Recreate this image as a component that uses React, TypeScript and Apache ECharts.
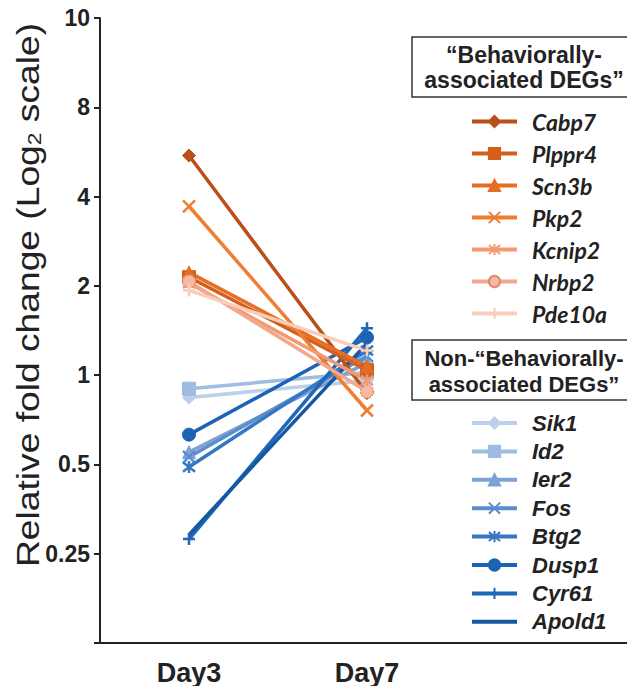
import React, { useEffect, useRef } from "react";
import * as echarts from "echarts";

const days = ["Day3", "Day7", ""];
const yTickLabels = ["", "0.25", "0.5", "1", "2", "4", "8", "10"];

const behavioralGenes = ["Cabp7", "Plppr4", "Scn3b", "Pkp2", "Kcnip2", "Nrbp2", "Pde10a"];
const behavioralDay3 = [5.5, 2.14, 2.22, 3.71, 2.04, 2.07, 1.93];
const behavioralDay7 = [0.87, 1.04, 1.07, 0.76, 0.96, 0.88, 1.21];
const behavioralColors = ["#b9501c", "#d35f1c", "#e56d24", "#ef7d32", "#f39a72", "#f2a88c", "#f8cdb9"];

const nonGenes = ["Sik1", "Id2", "Ier2", "Fos", "Btg2", "Dusp1", "Cyr61", "Apold1"];
const nonDay3 = [0.84, 0.9, 0.55, 0.53, 0.49, 0.63, 0.28, 0.29];
const nonDay7 = [0.96, 1.02, 1.1, 1.16, 1.21, 1.34, 1.44, 1.28];
const nonColors = ["#bcd0ea", "#9fbce2", "#7da2d4", "#5b8ccc", "#3577c2", "#1c63b4", "#1f68b8", "#1557a3"];

const X_PATH = "path://M0,0 L10,10 M10,0 L0,10";
const STAR_PATH = "path://M1,1 L9,9 M9,1 L1,9 M5,0 L5,10";
const PLUS_PATH = "path://M5,0 L5,10 M0,5 L10,5";
const LINE_ICON = "path://M0,0 L45,0 L45,4 L0,4 Z";

const behavioralSymbols = ["diamond", "rect", "triangle", X_PATH, STAR_PATH, "circle", PLUS_PATH];
const nonSymbols = ["diamond", "rect", "triangle", X_PATH, STAR_PATH, "circle", PLUS_PATH, "none"];

function makeSeries(name: string, d3: number, d7: number, color: string, symbol: string) {
  const stroked = symbol.startsWith("path://");
  const isNrbp2 = name === "Nrbp2";
  return {
    name,
    type: "line",
    data: [Math.log2(d3), Math.log2(d7)],
    symbol,
    symbolSize: stroked ? 12 : 13,
    lineStyle: { color, width: 3.5 },
    itemStyle: isNrbp2
      ? { color: "#f6b9a3", borderColor: "#df8a6c", borderWidth: 1.5, borderType: "dotted" }
      : { color, borderColor: color, borderWidth: stroked ? 2.5 : 1 },
    emphasis: { disabled: true },
    z: 2,
  };
}

export default function App() {
  const ref = useRef<HTMLDivElement>(null);
  useEffect(() => {
    const chart = echarts.init(ref.current!, undefined, { renderer: "svg" });
    const series: any[] = [];
    nonGenes.forEach((g, i) => series.push(makeSeries(g, nonDay3[i], nonDay7[i], nonColors[i], nonSymbols[i])));
    behavioralGenes.forEach((g, i) =>
      series.push(makeSeries(g, behavioralDay3[i], behavioralDay7[i], behavioralColors[i], behavioralSymbols[i]))
    );
    const nonLegendData = nonGenes.map((g, i) =>
      nonSymbols[i] === "none"
        ? { name: g, icon: LINE_ICON, itemStyle: { color: nonColors[i], borderWidth: 0 } }
        : { name: g }
    );
    const option: any = {
      animation: false,
      backgroundColor: "#ffffff",
      grid: { left: 100, right: 1, top: 18, bottom: 51 },
      xAxis: {
        type: "category",
        data: days,
        boundaryGap: true,
        axisLine: { onZero: false, lineStyle: { color: "#222", width: 2 } },
        axisTick: {
          alignWithLabel: true,
          length: 6,
          interval: (i: number) => i < 2,
          lineStyle: { color: "#222", width: 2.5 },
        },
        axisLabel: {
          color: "#222",
          fontSize: 27,
          fontWeight: "bold",
          fontFamily: "Liberation Sans",
          margin: 16,
        },
        splitLine: { show: false },
      },
      yAxis: {
        type: "value",
        min: -3,
        max: 4,
        interval: 1,
        axisLine: { show: true, lineStyle: { color: "#222", width: 2 } },
        axisTick: { show: true, length: 6, lineStyle: { color: "#222", width: 2 } },
        axisLabel: {
          color: "#222",
          fontSize: 23,
          fontWeight: "bold",
          fontFamily: "Liberation Sans",
          margin: 10,
          formatter: (v: number) => yTickLabels[Math.round(v) + 3] ?? "",
        },
        splitLine: { show: false },
      },
      legend: [
        {
          data: behavioralGenes,
          orient: "vertical",
          left: 465,
          top: 105,
          itemWidth: 45,
          itemHeight: 14,
          itemGap: 9,
          selectedMode: false,
          lineStyle: { width: 4 },
          textStyle: {
            color: "#222",
            fontSize: 23,
            fontStyle: "italic",
            fontWeight: "bold",
            fontFamily: "Lato",
            padding: [0, 0, 0, 10],
          },
        },
        {
          data: nonLegendData,
          orient: "vertical",
          left: 465,
          top: 407,
          itemWidth: 45,
          itemHeight: 14,
          itemGap: 6.4,
          selectedMode: false,
          lineStyle: { width: 4 },
          textStyle: {
            color: "#222",
            fontSize: 22,
            fontStyle: "italic",
            fontWeight: "bold",
            fontFamily: "Liberation Sans",
            padding: [0, 0, 0, 10],
          },
        },
      ],
      graphic: [
        {
          type: "text",
          x: 28,
          y: 295,
          rotation: Math.PI / 2,
          scaleX: 1.2,
          style: {
            text: "Relative fold change (Log{sub|2} scale)",
            font: "31px 'Liberation Sans'",
            fill: "#222",
            align: "center",
            verticalAlign: "middle",
            rich: {
              sub: { fontSize: 19, fontFamily: "Liberation Sans", verticalAlign: "bottom", padding: [12, 0, 0, 0], fill: "#222" },
            },
          },
        },
        {
          type: "rect",
          shape: { x: 412, y: 37, width: 240, height: 60 },
          style: { fill: "#fff", stroke: "#333", lineWidth: 1.5 },
          z: 10,
        },
        {
          type: "text",
          x: 524,
          y: 67,
          z: 11,
          style: {
            text: "\u201cBehaviorally-\nassociated DEGs\u201d",
            font: "bold 23px 'Liberation Sans'",
            lineHeight: 25,
            fill: "#222",
            align: "center",
            verticalAlign: "middle",
          },
        },
        {
          type: "rect",
          shape: { x: 412, y: 340, width: 240, height: 60 },
          style: { fill: "#fff", stroke: "#333", lineWidth: 1.5 },
          z: 10,
        },
        {
          type: "text",
          x: 524,
          y: 371,
          z: 11,
          style: {
            text: "Non-\u201cBehaviorally-\nassociated DEGs\u201d",
            font: "bold 22px 'Liberation Sans'",
            lineHeight: 26,
            fill: "#222",
            align: "center",
            verticalAlign: "middle",
          },
        },
      ],
      series,
    };
    chart.setOption(option);
    return () => chart.dispose();
  }, []);
  return <div ref={ref} style={{ width: 635, height: 694, margin: -8 }} />;
}
